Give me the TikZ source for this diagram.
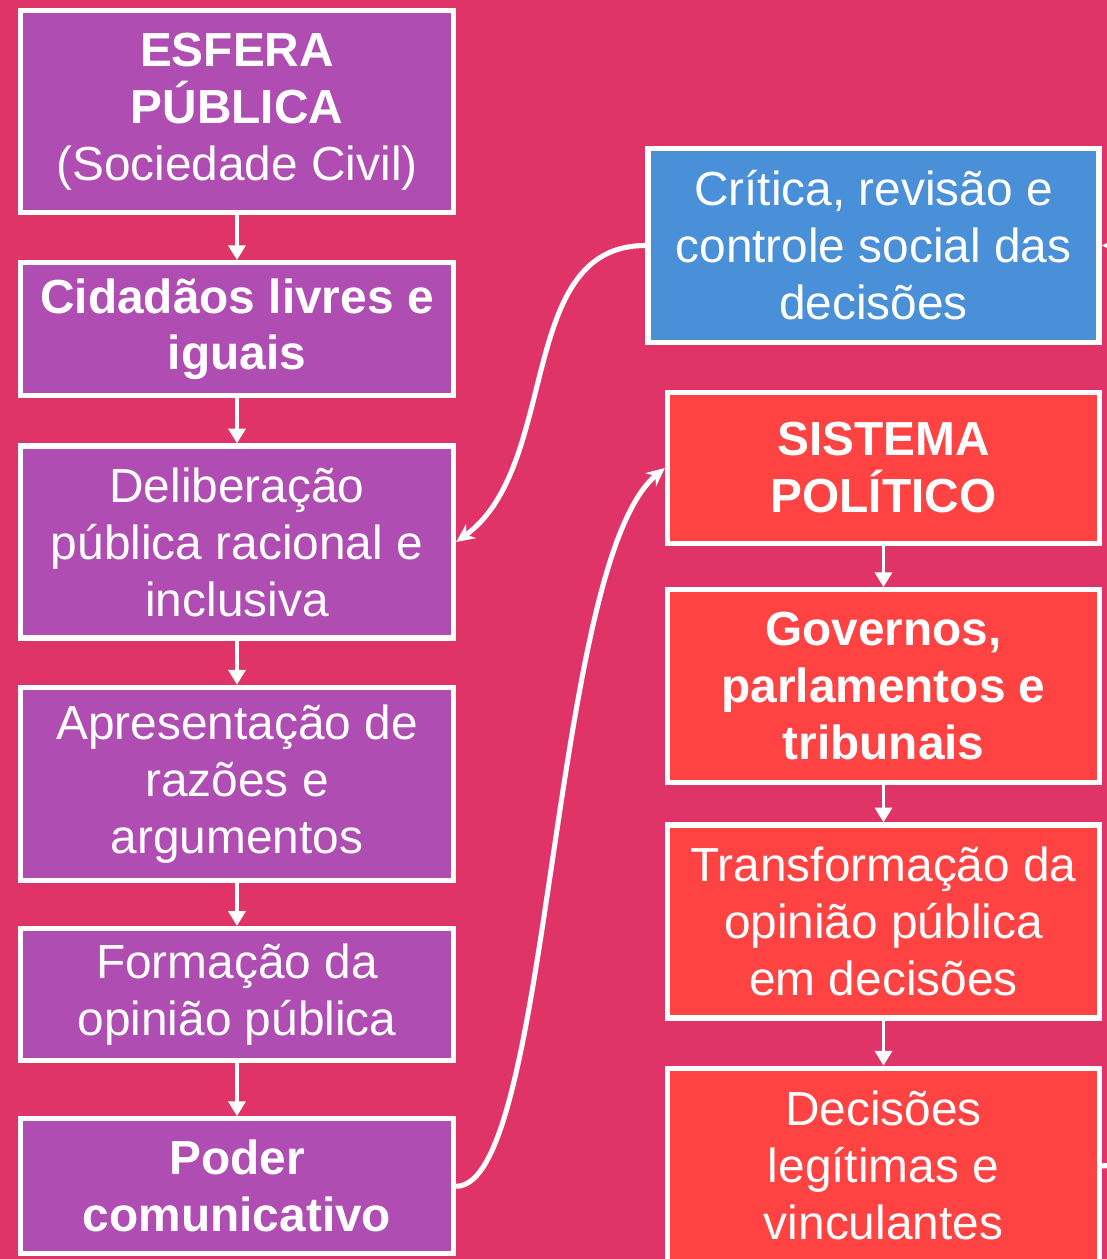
\documentclass[tikz,border=0pt]{standalone}
\usepackage{fontspec}
\setmainfont{Liberation Sans}
\usetikzlibrary{arrows.meta,positioning}
\definecolor{bgrose}{HTML}{E03368}
\definecolor{esfpurple}{HTML}{B04DB3}
\definecolor{critblue}{HTML}{4A90D9}
\definecolor{sisred}{HTML}{FF4242}

\begin{document}
\begin{tikzpicture}[
    x=0.025cm, y=-0.025cm,
    node distance=1.125cm,
    every node/.style={font=\fontsize{34}{40.5}\selectfont, text=white},
    box/.style={draw=white, line width=3.7pt, align=center, inner sep=4pt, minimum width=10.825cm},
    bld/.style={font=\fontsize{34}{40.5}\selectfont\bfseries},
    pbox/.style={box, fill=esfpurple},
    rbox/.style={box, fill=sisred, minimum width=10.8cm},
    flw/.style={-{Triangle[length=10.5pt,width=12pt]}, line width=2.8pt, white},
    curv/.style={-{Stealth[length=13pt,width=12pt]}, line width=3.6pt, white}
  ]
    \clip (0,0) rectangle (1107,1259);
    \fill[bgrose] (0,0) rectangle (1107,1259);

    % public sphere
    \node[pbox, minimum height=5.05cm] (esf) at (237,111.5) {\textbf{ESFERA}\\\textbf{PÚBLICA}\\(Sociedade Civil)};
    \node[pbox, bld, minimum height=3.325cm, below=1.125cm of esf] (cid) {Cidadãos livres e\\iguais};
    \node[pbox, minimum height=4.8cm, below=1.125cm of cid]   (delib) {Deliberação\\pública racional e\\inclusiva};
    \node[pbox, minimum height=4.825cm, below=1.1cm of delib] (apr) {Apresentação de\\razões e\\argumentos};
    \node[pbox, minimum height=3.3cm, below=1.075cm of apr]   (form) {Formação da\\opinião pública};
    \node[pbox, bld, minimum height=3.375cm, below=1.325cm of form] (pod) {Poder\\comunicativo};

    % political system
    \node[box, fill=critblue, minimum width=11.275cm, minimum height=4.85cm] (crit) at (873.5,245.5) {Crítica, revisão e\\controle social das\\decisões};
    \node[rbox, bld, minimum height=3.775cm] (sis) at (883.5,468) {SISTEMA\\POLÍTICO};
    \node[rbox, bld, minimum height=4.825cm, below=1.025cm of sis] (gov) {Governos,\\parlamentos e\\tribunais};
    \node[rbox, minimum height=4.825cm, below=0.925cm of gov] (trans) {Transformação da\\opinião pública\\em decisões};
    \node[rbox, minimum height=4.875cm, below=1.125cm of trans] (dec) {Decisões\\legítimas e\\vinculantes};

    % straight flow
    \draw[flw] (esf.south) -- (cid.north);
    \draw[flw] (cid.south) -- (delib.north);
    \draw[flw] (delib.south) -- (apr.north);
    \draw[flw] (apr.south) -- (form.north);
    \draw[flw] (form.south) -- (pod.north);
    \draw[flw] (sis.south) -- (gov.north);
    \draw[flw] (gov.south) -- (trans.north);
    \draw[flw] (trans.south) -- (dec.north);

    % curved links between the two columns
    \draw[curv] (crit.west) .. controls +(-130,0) and +(105,-76) .. (delib.east);
    \draw[curv] (pod.east) .. controls +(95,0) and +(-115,95) .. (sis.west);
    \draw[curv] (dec.east) .. controls +(260,0) and +(260,0) .. (crit.east);

  \end{tikzpicture}
\end{document}
